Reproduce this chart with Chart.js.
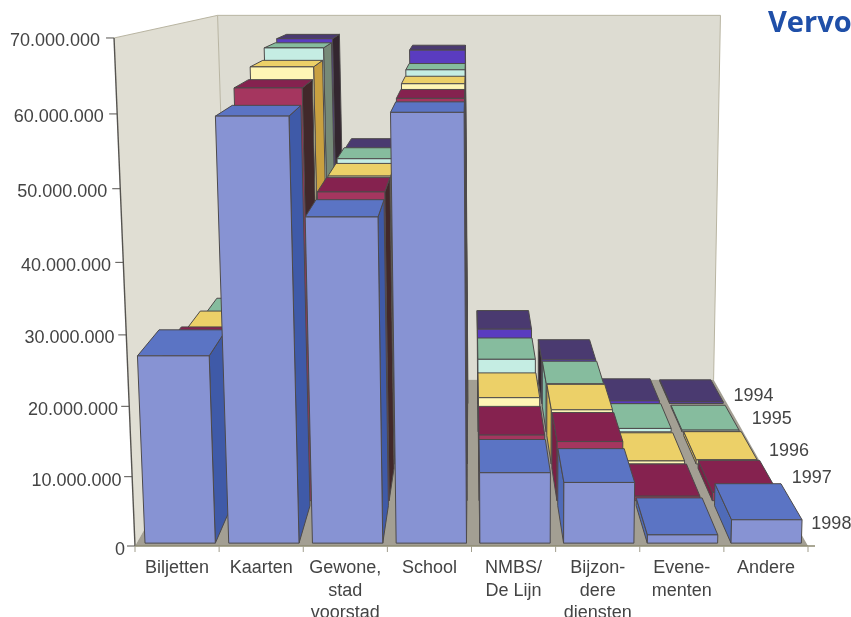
<!DOCTYPE html>
<html><head><meta charset="utf-8">
<style>html,body{margin:0;padding:0;background:#fff}canvas{display:block}</style>
<script src="https://cdn.jsdelivr.net/npm/chart.js@4"></script>
</head><body><canvas id="c" width="851" height="617"></canvas>
<script>
const categories = ["Biljetten","Kaarten",["Gewone,","stad","voorstad"],"School",["NMBS/","De Lijn"],["Bijzon-","dere","diensten"],["Evene-","menten"],"Andere"];
const years = ["1994","1995","1996","1997","1998"];
const values1994 = [19000000,66200000,46800000,64200000,13900000,8200000,500000,300000];
const values1995 = [20100000,65600000,47200000,62000000,12800000,8500000,600000,300000];
const values1996 = [21700000,63700000,46700000,61100000,11000000,9000000,500000,700000];
const values1997 = [23100000,61900000,46800000,60400000,10200000,9200000,700000,1300000];
const values1998 = [26800000,59600000,46000000,60100000,10200000,8800000,1200000,3400000];
const series = [values1994,values1995,values1996,values1997,values1998];
const frontColors = ["#5a3cc0","#c5ede3","#fff6b5","#a5365f","#8793d3"];
const topColors   = ["#4a3a70","#86bc9e","#ecd068","#85224f","#5b74c4"];
const rightFaceColors = ["#33262f","#768a78","#c9a040","#41282a","#3f5aa8"];
const leftFaceColors  = ["#33262f","#7fb5a0","#d8b850","#7a1f45","#4f6bb8"];

// perspective of the 3D box
const CX=471.5,P=-0.052,Q=0.39,A=510,B=18,LEAN=2.5,ROW=0.2,ROWFILL=0.175,ROWGAP=0.0125;
const yearLabelNudge=[[-3,4],[0,0],[0,2],[3,-6],[0,0]];
function proj(chart,px,v,t){
  const w=1+P*v+Q*t;
  return [CX+(px-CX)/w-LEAN*v,(chart.chartArea.bottom-A*v-B*t)/w];
}
function poly(ctx,pts,fill,stroke){
  ctx.beginPath();pts.forEach((p,i)=>i?ctx.lineTo(p[0],p[1]):ctx.moveTo(p[0],p[1]));ctx.closePath();
  if(fill){ctx.fillStyle=fill;ctx.fill();}
  if(stroke){ctx.strokeStyle=stroke;ctx.lineWidth=1;ctx.stroke();}
}
class PerspScale extends Chart.LinearScale{
  static id='persp';
  static defaults=Chart.LinearScale.defaults;
  frac(value){return (value-this.min)/(this.max-this.min);}
  getPixelForValue(value){
    const v=this.frac(value);
    return (this.chart.chartArea?this.chart.chartArea.bottom:this.bottom)/(1+P*v)-A*v/(1+P*v);
  }
  _computeLabelItems(area){
    const items=super._computeLabelItems(area);
    items.forEach((it,i)=>{
      const v=this.frac(this.ticks[i].value);
      const p=proj(this.chart,area.left,v,0);
      it.options.translation=[p[0]-10-4*v,p[1]+4-v];
      it.options.textAlign='right';
      it.textAlign='right';
    });
    return items;
  }
}
Chart.register(PerspScale);

const walls={id:'walls',beforeDraw(chart){
  const c=chart.ctx,a=chart.chartArea,l=a.left,r=a.right;
  const A0=proj(chart,l,0,0),B0=proj(chart,r,0,0),E=proj(chart,l,0,1),F=proj(chart,r,0,1);
  const Cc=proj(chart,l,1,0),G=proj(chart,l,0.995,1),H=proj(chart,r,0.995,1);
  c.save();
  c.fillStyle='#fff';c.fillRect(0,0,chart.width,chart.height);
  poly(c,[Cc,G,E,A0],'#e0ded3');
  poly(c,[G,H,F,E],'#dddcd2');
  poly(c,[A0,B0,F,E],'#a39f93');
  c.strokeStyle='#b9b5a2';c.lineWidth=1;
  c.beginPath();c.moveTo(Cc[0],Cc[1]);c.lineTo(G[0],G[1]);c.lineTo(H[0],H[1]);c.lineTo(F[0],F[1]);c.moveTo(G[0],G[1]);c.lineTo(E[0],E[1]);c.stroke();
  c.restore();
}};
const bars3d={id:'bars3d',beforeDatasetsDraw(chart){
  const c=chart.ctx,x=chart.scales.x,y=chart.scales.y,cw=x.width/categories.length;
  c.save();c.lineJoin='round';
  const order=categories.map((_,i)=>i).sort((p,q)=>Math.abs(x.getPixelForValue(q)-CX)-Math.abs(x.getPixelForValue(p)-CX));
  order.forEach(i=>{
    const mid=x.getPixelForValue(i),x0=mid-0.4*cw,x1=mid+0.44*cw;
    series.forEach((vals,s)=>{
      const row=series.length-1-s,t0=row*ROW+ROWGAP,t1=t0+ROWFILL,v=y.frac(vals[i]);
      const line='#4d4a4a';
      if(x1<CX) poly(c,[proj(chart,x1,0,t0),proj(chart,x1,v,t0),proj(chart,x1,v,t1),proj(chart,x1,0,t1)],rightFaceColors[s],line);
      else if(x0>CX) poly(c,[proj(chart,x0,0,t0),proj(chart,x0,v,t0),proj(chart,x0,v,t1),proj(chart,x0,0,t1)],leftFaceColors[s],line);
      poly(c,[proj(chart,x0,v,t0),proj(chart,x1,v,t0),proj(chart,x1,v,t1),proj(chart,x0,v,t1)],topColors[s],line);
      poly(c,[proj(chart,x0,0,t0),proj(chart,x1,0,t0),proj(chart,x1,v,t0),proj(chart,x0,v,t0)],frontColors[s],line);
    });
  });
  c.restore();
  return false;
},afterDraw(chart){
  const c=chart.ctx,a=chart.chartArea,x=chart.scales.x,y=chart.scales.y;
  c.save();
  // value axis with slanted line and tick marks
  c.strokeStyle='#55534f';c.lineWidth=1.4;
  const b=proj(chart,a.left,0,0),tp=proj(chart,a.left,1,0);
  c.beginPath();c.moveTo(b[0],b[1]);c.lineTo(tp[0],tp[1]);c.stroke();
  c.lineWidth=1;
  y.ticks.forEach(tk=>{const p=proj(chart,a.left,y.frac(tk.value),0);c.beginPath();c.moveTo(p[0],p[1]);c.lineTo(p[0]-8,p[1]);c.stroke();});
  // category axis
  c.strokeStyle='#8d8a70';c.lineWidth=1.4;
  c.beginPath();c.moveTo(a.left,a.bottom);c.lineTo(a.right+7,a.bottom);c.stroke();
  c.lineWidth=1;c.strokeStyle='#a09d8c';
  for(let i=0;i<=categories.length;i++){const px=a.left+x.width*i/categories.length;c.beginPath();c.moveTo(px,a.bottom);c.lineTo(px,a.bottom+6);c.stroke();}
  // depth labels
  c.fillStyle='#444';c.font='18px "Liberation Sans"';c.textAlign='center';c.textBaseline='middle';
  years.forEach((lab,s)=>{
    const row=series.length-1-s,p=proj(chart,a.right,0,row*ROW+0.1),n=yearLabelNudge[s];
    c.fillText(lab,p[0]+36+n[0],p[1]+n[1]);
  });
  // header fragment
  c.fillStyle='#1f4fa8';c.font='bold 29px "Open Sans"';c.textAlign='left';c.textBaseline='alphabetic';
  c.fillText('Vervo',768,32);
  c.restore();
}};

new Chart(document.getElementById('c'),{
  type:'bar',
  data:{labels:categories,datasets:years.map((lab,s)=>({label:lab,data:series[s],backgroundColor:frontColors[s]}))},
  options:{
    responsive:false,animation:false,
    layout:{padding:{top:38,right:43,left:0,bottom:0}},
    plugins:{legend:{display:false},title:{display:false},tooltip:{enabled:false}},
    scales:{
      x:{type:'category',offset:true,
        afterFit(s){s.height=71;},
        grid:{display:false},border:{display:false},
        ticks:{color:'#444',padding:3,maxRotation:0,autoSkip:false,font:{family:'Liberation Sans',size:18,lineHeight:1.25}}},
      y:{type:'persp',min:0,max:70000000,
        afterFit(s){s.width=135;},
        grid:{display:false},border:{display:false},
        ticks:{stepSize:10000000,color:'#444',font:{family:'Liberation Sans',size:18},
          callback:v=>String(v).replace(/\B(?=(\d{3})+(?!\d))/g,'.')}}
    }
  },
  plugins:[walls,bars3d]
});
</script></body></html>
